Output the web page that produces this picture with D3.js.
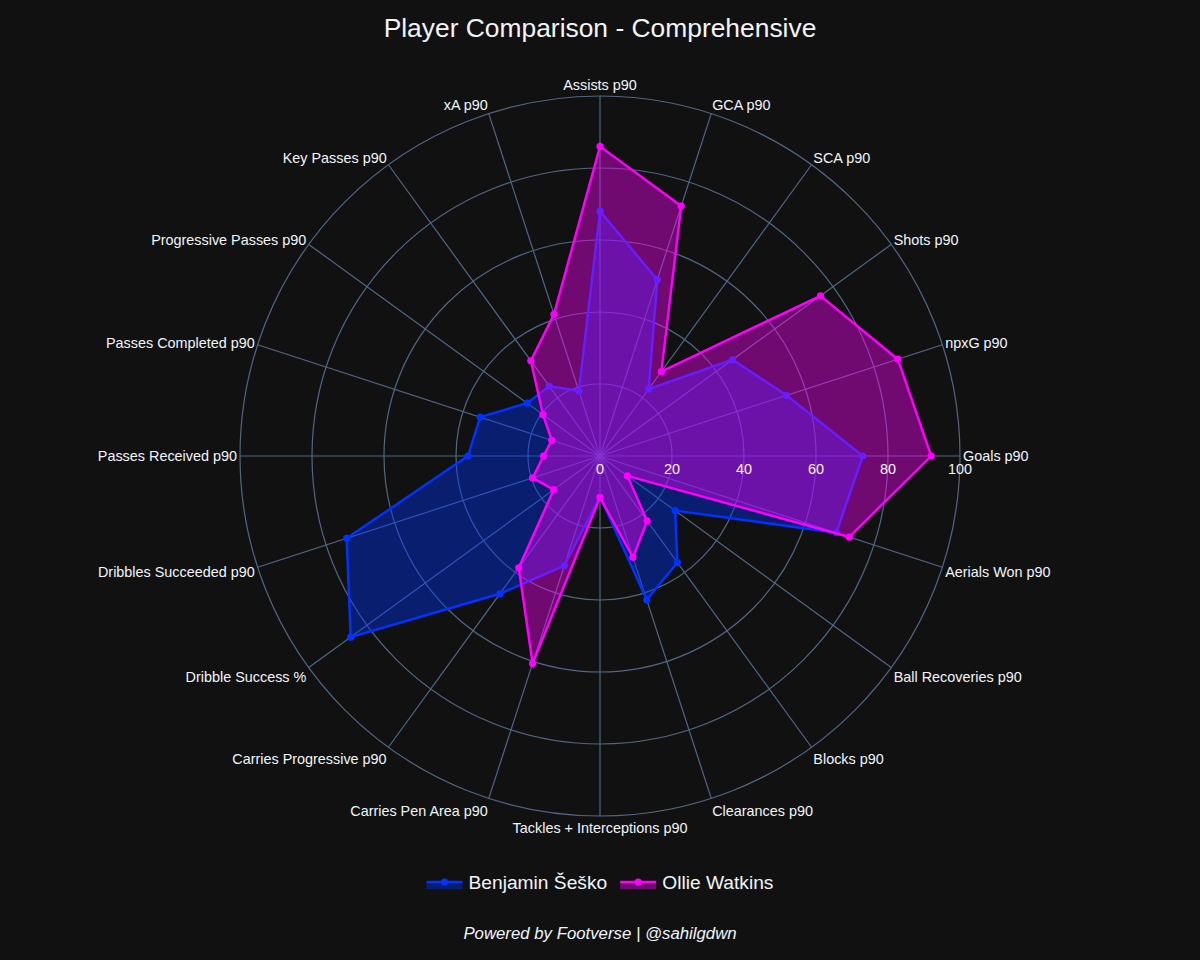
<!DOCTYPE html>
<html>
<head>
<meta charset="utf-8">
<script src="https://cdn.jsdelivr.net/npm/d3@7"></script>
<style>
    body { margin: 0; background: #111111; }
    svg text { font-family: "Liberation Sans", Arial, sans-serif; fill: #f2f5fa; }
</style>
</head>
<body>
<div id="radar-chart-area"></div>
<script>
// chart data
var categories = ["Goals p90", "npxG p90", "Shots p90", "SCA p90", "GCA p90",
    "Assists p90", "xA p90", "Key Passes p90", "Progressive Passes p90", "Passes Completed p90",
    "Passes Received p90", "Dribbles Succeeded p90", "Dribble Success %", "Carries Progressive p90",
    "Carries Pen Area p90", "Tackles + Interceptions p90", "Clearances p90", "Blocks p90",
    "Ball Recoveries p90", "Aerials Won p90"];

var seskoValues = [73, 54.5, 45.5, 23, 51.5, 68, 19, 24, 25, 35,
    36.7, 74, 85.6, 47.3, 32, 11.3, 42, 36.6, 25.8, 69];

var watkinsValues = [92, 87, 75.7, 29, 73, 86, 41.4, 32.7, 19.6, 14.1,
    15.7, 19.7, 15.9, 38.4, 60.6, 11.5, 29.6, 22.3, 9.4, 72.8];

var playerNames = ["Benjamin Šeško", "Ollie Watkins"];
var radialTicks = [0, 20, 40, 60, 80, 100];

var width = 1200, height = 960;
var cx = 600, cy = 456, radius = 360;
var colors = ["#0033ff", "#ff00ff"];
var gridColor = "#506784";

var svg = d3.select("#radar-chart-area").append("svg")
    .attr("width", width)
    .attr("height", height);

svg.append("rect")
    .attr("width", width)
    .attr("height", height)
    .attr("fill", "#111111");

svg.append("text")
    .text("Player Comparison - Comprehensive")
    .attr("x", width / 2)
    .attr("y", 37)
    .style("font-size", "26.4px")
    .style("text-anchor", "middle");

var rScale = d3.scaleLinear()
    .domain([0, 100])
    .range([0, radius]);

// angle in radians, counterclockwise from east
var angleScale = d3.scaleLinear()
    .domain([0, categories.length])
    .range([0, 2 * Math.PI]);

var g = svg.append("g")
    .attr("transform", "translate(" + cx + "," + cy + ")");

// grid circles
g.selectAll(".ring")
    .data(radialTicks.slice(1))
    .enter()
    .append("circle")
    .attr("r", function (d) { return rScale(d); })
    .attr("fill", "none")
    .attr("stroke", gridColor)
    .attr("stroke-width", 1.2);

// spokes
g.selectAll(".spoke")
    .data(categories)
    .enter()
    .append("line")
    .attr("x1", 0)
    .attr("y1", 0)
    .attr("x2", function (d, i) { return rScale(100) * Math.cos(angleScale(i)); })
    .attr("y2", function (d, i) { return -rScale(100) * Math.sin(angleScale(i)); })
    .attr("stroke", gridColor)
    .attr("stroke-width", 1.2);

var radarLine = d3.lineRadial()
    .angle(function (d, i) { return Math.PI / 2 - angleScale(i); })
    .radius(function (d) { return rScale(d); })
    .curve(d3.curveLinearClosed);

var series = [seskoValues, watkinsValues];

series.forEach(function (values, k) {
    var trace = g.append("g");

    trace.append("path")
        .attr("d", radarLine(values))
        .attr("fill", colors[k])
        .attr("fill-opacity", 0.4)
        .attr("stroke", colors[k])
        .attr("stroke-width", 2.4)
        .attr("stroke-linejoin", "round");

    trace.selectAll("circle")
        .data(values)
        .enter()
        .append("circle")
        .attr("cx", function (d, i) { return rScale(d) * Math.cos(angleScale(i)); })
        .attr("cy", function (d, i) { return -rScale(d) * Math.sin(angleScale(i)); })
        .attr("r", 3.6)
        .attr("fill", colors[k]);
});

// angular labels, placed the way plotly does it
var fontSize = 14.4, pad = 3;
g.selectAll(".cat-label")
    .data(categories)
    .enter()
    .append("text")
    .text(function (d) { return d; })
    .attr("x", function (d, i) {
        return (rScale(100) + pad) * Math.cos(angleScale(i));
    })
    .attr("y", function (d, i) {
        var a = angleScale(i);
        var ff = Math.sin(a) > 0.001 ? 0.2 : 1;
        var base = -rScale(100) * Math.sin(a);
        return base - Math.sin(a) * (pad + fontSize * ff) + Math.abs(Math.cos(a)) * fontSize * 0.35;
    })
    .style("font-size", fontSize + "px")
    .style("text-anchor", function (d, i) {
        var c = Math.cos(angleScale(i));
        return Math.abs(c) < 0.1 ? "middle" : (c > 0 ? "start" : "end");
    });

// radial tick labels
g.selectAll(".r-label")
    .data(radialTicks)
    .enter()
    .append("text")
    .text(function (d) { return d; })
    .attr("x", function (d) { return rScale(d); })
    .attr("y", 18)
    .style("font-size", fontSize + "px")
    .style("text-anchor", "middle");

// legend
var legend = svg.append("g");
var xPos = 0;
playerNames.forEach(function (name, k) {
    var item = legend.append("g")
        .attr("transform", "translate(" + xPos + ",0)");
    item.append("rect")
        .attr("x", 6)
        .attr("y", 0)
        .attr("width", 36)
        .attr("height", 7.2)
        .attr("fill", colors[k])
        .attr("fill-opacity", 0.4);
    item.append("line")
        .attr("x1", 6)
        .attr("x2", 42)
        .attr("y1", 0)
        .attr("y2", 0)
        .attr("stroke", colors[k])
        .attr("stroke-width", 2.4);
    item.append("circle")
        .attr("cx", 24)
        .attr("cy", 0)
        .attr("r", 3.6)
        .attr("fill", colors[k]);
    var label = item.append("text")
        .text(name)
        .attr("x", 48)
        .attr("y", 6.7)
        .style("font-size", "19.2px");
    xPos += 48 + label.node().getComputedTextLength() + 7;
});
var legendWidth = xPos - 7;
legend.attr("transform", "translate(" + (width / 2 - legendWidth / 2 - 3) + ",882)");

svg.append("text")
    .text("Powered by Footverse | @sahilgdwn")
    .attr("x", width / 2)
    .attr("y", 939)
    .style("font-size", "16.8px")
    .style("font-style", "italic")
    .style("text-anchor", "middle");
</script>
</body>
</html>
